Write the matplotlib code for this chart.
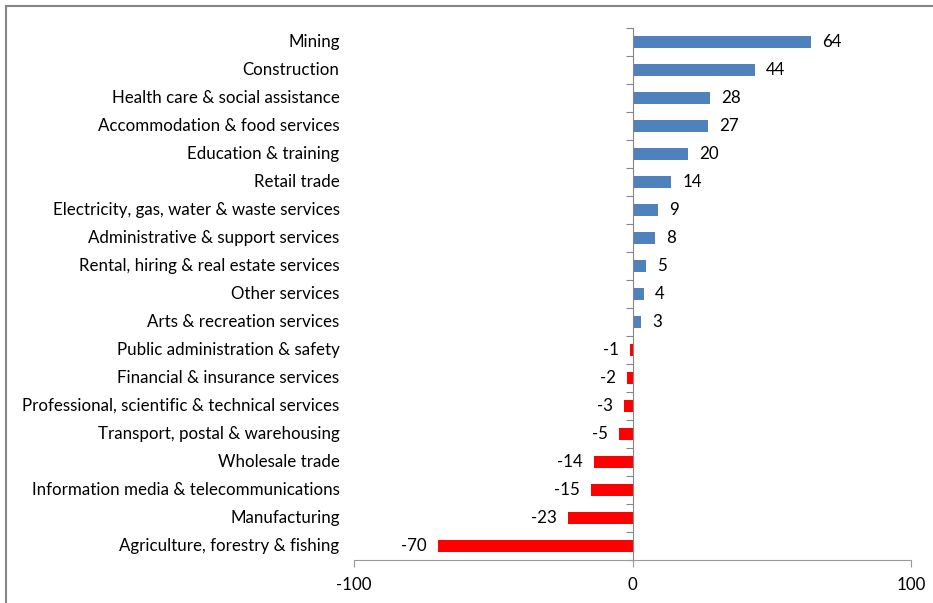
import matplotlib.pyplot as plt
from matplotlib.patches import Rectangle
from matplotlib.transforms import blended_transform_factory

plt.rcParams['font.family'] = ['Lato', 'DejaVu Sans']

# employment change by industry ('000)
industries = ["Mining", "Construction", "Health care & social assistance",
              "Accommodation & food services", "Education & training",
              "Retail trade", "Electricity, gas, water & waste services",
              "Administrative & support services",
              "Rental, hiring & real estate services", "Other services",
              "Arts & recreation services", "Public administration & safety",
              "Financial & insurance services",
              "Professional, scientific & technical services",
              "Transport, postal & warehousing", "Wholesale trade",
              "Information media & telecommunications", "Manufacturing",
              "Agriculture, forestry & fishing"]
changes = [64, 44, 28, 27, 20, 14, 9, 8, 5, 4, 3,
           -1, -2, -3, -5, -14, -15, -23, -70]
xticks = [-100, 0, 100]

fig = plt.figure(figsize=(9.33, 6.03), dpi=100)
ax = fig.add_axes([354/933, 1-560/603, (911-354)/933, (560-28)/603])

ypos = list(range(len(industries)))
colors = ['#4F81BD' if v >= 0 else '#FF0000' for v in changes]
ax.barh(ypos, changes, height=0.43, color=colors, zorder=2)
ax.set_xlim(-100, 100)
ax.set_ylim(len(industries) - 0.5, -0.5)

fs = 12.2

# value labels
for y, v in zip(ypos, changes):
    if v >= 0:
        ax.annotate(str(v), (v, y), xytext=(8, 0), textcoords='offset points',
                    va='center', ha='left', fontsize=fs, color='black')
    else:
        ax.annotate(str(v), (v, y), xytext=(-8, 0), textcoords='offset points',
                    va='center', ha='right', fontsize=fs, color='black')

# category names sit left of the plot area
trans = blended_transform_factory(ax.transAxes, ax.transData)
for y, name in zip(ypos, industries):
    ax.text(-0.026, y, name, transform=trans, ha='right', va='center',
            fontsize=fs, color='black')

# vertical axis through zero with ticks between categories
for s in ['top', 'right']:
    ax.spines[s].set_visible(False)
ax.spines['left'].set_position(('data', 0))
ax.spines['left'].set_color('#868686')
ax.set_yticks([i - 0.5 for i in range(len(industries) + 1)])
ax.set_yticklabels([])
ax.tick_params(axis='y', length=5, color='#868686', direction='out')

# dotted horizontal axis
ax.spines['bottom'].set_linestyle((0, (1, 1)))
ax.spines['bottom'].set_color('#999999')
ax.set_xticks(xticks)
ax.set_xticklabels([str(t) for t in xticks], fontsize=fs)
ax.tick_params(axis='x', length=5, color='#999999', pad=7)
for t in ax.xaxis.get_ticklines():
    t.set_linestyle((0, (1, 1)))

# chart border
fig.patches.append(Rectangle((6/933, -0.1), 1.2, 1 - 6/603 + 0.1,
                             transform=fig.transFigure, fill=False,
                             edgecolor='#868686', linewidth=1.5))

fig.savefig('out.png', dpi=100)
